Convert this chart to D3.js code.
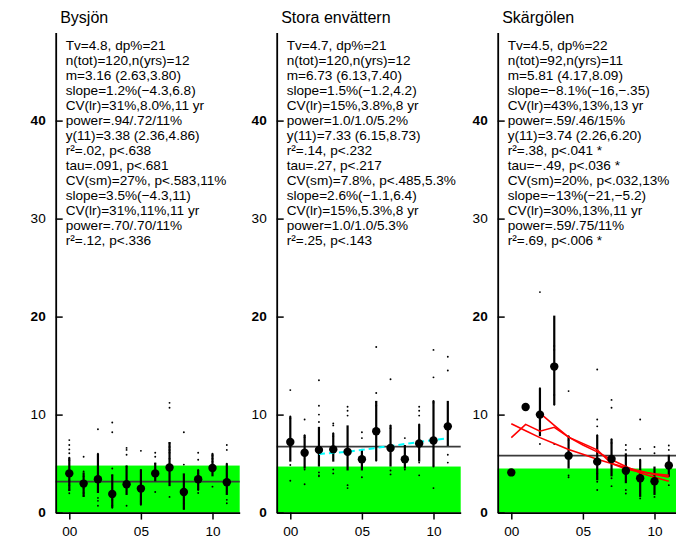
<!DOCTYPE html>
<html>
<head>
<meta charset="utf-8">
<script src="https://cdn.jsdelivr.net/npm/d3@7"></script>
<style>
  html, body { margin: 0; padding: 0; background: #fff; }
  svg { display: block; font-family: "Liberation Sans", Arial, Helvetica, sans-serif; }
</style>
</head>
<body>
<svg id="chart" width="676" height="538"></svg>
<script>
// ---------------- DATA ----------------
const titles = ["Bysjön", "Stora envättern", "Skärgölen"];
const tvValues = [4.8, 4.7, 4.5];
const overallMeans = [3.16, 6.73, 5.81];
const yTickValues = [0, 10, 20, 30, 40];
const xTickValues = [0, 5, 10];
const xTickLabels = ["00", "05", "10"];

const stats1 = [
  "Tv=4.8, dp%=21", "n(tot)=120,n(yrs)=12", "m=3.16 (2.63,3.80)", "slope=1.2%(\u22124.3,6.8)",
  "CV(lr)=31%,8.0%,11 yr", "power=.94/.72/11%", "y(11)=3.38 (2.36,4.86)", "r\u00b2=.02, p<.638",
  "tau=.091, p<.681", "CV(sm)=27%, p<.583,11%", "slope=3.5%(\u22124.3,11)", "CV(lr)=31%,11%,11 yr",
  "power=.70/.70/11%", "r\u00b2=.12, p<.336"
];
const stats2 = [
  "Tv=4.7, dp%=21", "n(tot)=120,n(yrs)=12", "m=6.73 (6.13,7.40)", "slope=1.5%(\u22121.2,4.2)",
  "CV(lr)=15%,3.8%,8 yr", "power=1.0/1.0/5.2%", "y(11)=7.33 (6.15,8.73)", "r\u00b2=.14, p<.232",
  "tau=.27, p<.217", "CV(sm)=7.8%, p<.485,5.3%", "slope=2.6%(\u22121.1,6.4)", "CV(lr)=15%,5.3%,8 yr",
  "power=1.0/1.0/5.3%", "r\u00b2=.25, p<.143"
];
const stats3 = [
  "Tv=4.5, dp%=22", "n(tot)=92,n(yrs)=11", "m=5.81 (4.17,8.09)", "slope=\u22128.1%(\u221216,\u2212.35)",
  "CV(lr)=43%,13%,13 yr", "power=.59/.46/15%", "y(11)=3.74 (2.26,6.20)", "r\u00b2=.38, p<.041 *",
  "tau=\u2212.49, p<.036 *", "CV(sm)=20%, p<.032,13%", "slope=\u221213%(\u221221,\u22125.2)", "CV(lr)=30%,13%,11 yr",
  "power=.59/.75/11%", "r\u00b2=.69, p<.006 *"
];

// Panel 1: Bysjön
const years1 = [0, 1, 2, 3, 4, 5, 6, 7, 8, 9, 10, 11];
const mean1 = [4.0, 2.96, 3.4, 1.9, 2.9, 2.45, 4.0, 4.6, 2.1, 3.4, 4.55, 3.1];
const lo1 = [2.2, 1.6, 2.0, 0.5, 1.8, 0.8, 3.2, 2.7, 0.3, 2.3, 3.7, 1.8];
const hi1 = [5.6, 4.1, 6.0, 3.9, 4.8, 4.4, 5.1, 7.2, 4.0, 4.35, 6.0, 5.0];
const dots1 = [
  [7.4, 6.9, 6.45, 6.05, 5.6, 5.35, 3.3, 2.8, 2.3, 1.97],
  [5.7, 4.2, 3.7, 2.5, 2.0, 1.7],
  [8.5, 6.0, 5.8, 5.4, 1.5, 1.2, 0.7],
  [9.2, 8.2, 4.5, 3.8, 1.3, 0.7, 0.5],
  [6.6, 6.4, 5.9, 4.7, 0.7],
  [6.3, 4.35, 1.6, 1.1, 0.8],
  [6.1, 5.7, 5.0, 2.1],
  [11.2, 10.7, 7.1, 6.7, 6.4, 6.1, 5.5, 1.6],
  [8.2, 4.9, 1.3, 0.9, 0.4],
  [6.1, 5.4, 4.35, 4.0, 2.3, 2.0],
  [6.0, 5.8, 5.5, 5.2, 2.65],
  [6.9, 6.4, 5.0, 1.3, 0.95]
];

// Panel 2: Stora envättern
const years2 = [0, 1, 2, 3, 4, 5, 6, 7, 8, 9, 10, 11];
const mean2 = [7.2, 6.1, 6.4, 6.45, 6.2, 5.45, 8.3, 6.6, 5.45, 7.05, 7.35, 8.8];
const lo2 = [5.2, 4.5, 4.7, 5.2, 4.3, 4.3, 5.3, 4.7, 4.5, 5.2, 4.7, 6.8];
const hi2 = [9.8, 7.9, 8.75, 8.1, 8.9, 6.5, 11.4, 8.9, 6.9, 9.0, 11.4, 11.4];
const dots2 = [
  [12.5, 9.8, 9.6, 4.85, 3.25],
  [9.5, 7.9, 7.7, 4.4, 2.9],
  [13.5, 10.9, 10.0, 9.25, 4.1, 3.8, 3.7],
  [9.1, 8.9, 8.1, 7.8, 4.4, 4.0],
  [10.8, 10.4, 9.9, 2.8, 2.5],
  [8.2, 7.6, 3.6],
  [16.9, 12.2, 11.3, 10.9, 5.3],
  [13.6, 8.9, 8.6, 4.3, 3.9],
  [7.6, 4.4],
  [10.8, 10.4, 9.9, 9.0, 5.1, 3.8],
  [16.6, 13.8, 11.4, 11.2, 4.7, 2.5],
  [15.9, 14.5, 5.9, 5.1]
];
const trendYears2 = [2, 3, 4, 5, 6, 7, 8, 9, 10, 11];
const trend2 = [5.99, 6.1, 6.2, 6.4, 6.6, 6.8, 7.0, 7.2, 7.4, 7.6];

// Panel 3: Skärgölen
const years3 = [0, 1, 2, 3, 4, 6, 7, 8, 9, 10, 11];
const mean3 = [4.1, 10.77, 10.0, 14.9, 5.81, 5.2, 5.47, 4.27, 3.5, 3.2, 4.8];
const lo3 = [null, null, 7.8, 11.0, 4.5, 3.3, 3.7, 3.0, 1.6, 1.8, 3.65];
const hi3 = [null, null, 12.7, 20.1, 7.8, 7.9, 7.5, 6.05, 5.4, 4.7, 5.9];
const dots3 = [
  [],
  [],
  [37.4, 22.5, 12.7, 11.9, 11.7, 8.6, 7.0],
  [17.0, 16.6, 12.0, 11.0, 7.0],
  [12.4, 7.8, 7.4, 3.8, 3.6],
  [14.6, 9.5, 8.8, 7.9, 4.0, 3.15, 2.3],
  [11.5, 10.7, 7.5, 7.1, 3.5, 2.7],
  [6.9, 6.4, 2.3, 1.95],
  [9.5, 6.5, 5.4, 1.45],
  [6.7, 6.05, 1.6],
  [6.85, 6.4, 2.8]
];
const redYearsA = [0, 1, 2, 3, 4, 5, 6, 7, 8, 9, 10, 11];
const redA = [9.06, 8.35, 7.65, 7.05, 6.45, 5.95, 5.45, 5.0, 4.6, 4.25, 3.9, 3.6];
const redYearsB = [0, 1, 2, 3, 4, 6, 7, 8, 9, 10, 11];
const redB = [7.65, 9.0, 8.3, 8.7, 7.7, 6.4, 5.0, 4.45, 4.15, 3.95, 3.8];
const redYearsC = [2, 3, 4, 5, 6, 7, 8, 9, 10, 11];
const redC = [10.15, 8.9, 7.7, 6.9, 6.2, 5.4, 4.7, 4.05, 3.6, 3.2];

// ---------------- DRAWING ----------------
const svg = d3.select("#chart");
const FONT = 13.6;

const panels = [
  { title: titles[0], tv: tvValues[0], m: overallMeans[0], stats: stats1, years: years1, mean: mean1, lo: lo1, hi: hi1, dots: dots1 },
  { title: titles[1], tv: tvValues[1], m: overallMeans[1], stats: stats2, years: years2, mean: mean2, lo: lo2, hi: hi2, dots: dots2,
    dashed: { years: trendYears2, values: trend2, color: "#00ffff" } },
  { title: titles[2], tv: tvValues[2], m: overallMeans[2], stats: stats3, years: years3, mean: mean3, lo: lo3, hi: hi3, dots: dots3,
    red: [ { years: redYearsA, values: redA }, { years: redYearsB, values: redB }, { years: redYearsC, values: redC } ] }
];

const axisX = [55.7, 276.7, 497.7];
const plotW = 184;

panels.forEach((p, i) => {
  const ax = axisX[i];
  const x = d3.scaleLinear().domain([-0.95, 11.9]).range([ax, ax + plotW]);
  const y = d3.scaleLinear().domain([0, 49]).range([512.6, 32.4]);
  const g = svg.append("g");

  // green tolerance band
  g.append("rect")
    .attr("x", x(-0.95)).attr("y", y(p.tv))
    .attr("width", x(11.9) - x(-0.95)).attr("height", y(0) - y(p.tv))
    .attr("fill", "#00ff00");

  // overall mean line
  g.append("line")
    .attr("x1", x(-0.95)).attr("x2", x(11.9))
    .attr("y1", y(p.m)).attr("y2", y(p.m))
    .attr("stroke", "#3a3a3a").attr("stroke-width", 1.8);

  // individual observations
  p.years.forEach((yr, k) => {
    g.selectAll(null).data(p.dots[k]).enter().append("circle")
      .attr("cx", x(yr)).attr("cy", d => y(d)).attr("r", 0.95).attr("fill", "#000");
  });

  // intervals
  p.years.forEach((yr, k) => {
    if (p.lo[k] == null) return;
    g.append("line")
      .attr("x1", x(yr)).attr("x2", x(yr))
      .attr("y1", y(p.lo[k])).attr("y2", y(p.hi[k]))
      .attr("stroke", "#000").attr("stroke-width", 2.2);
  });

  // trend lines
  if (p.dashed) {
    const line = d3.line().x((d, k) => x(p.dashed.years[k])).y(d => y(d));
    g.append("path").attr("d", line(p.dashed.values))
      .attr("fill", "none").attr("stroke", p.dashed.color)
      .attr("stroke-width", 2).attr("stroke-dasharray", "6,4");
  }
  if (p.red) {
    p.red.forEach(r => {
      const line = d3.line().x((d, k) => x(r.years[k])).y(d => y(d));
      g.append("path").attr("d", line(r.values))
        .attr("fill", "none").attr("stroke", "#ff0000").attr("stroke-width", 1.6);
    });
  }

  // yearly means
  g.selectAll(null).data(p.mean).enter().append("circle")
    .attr("cx", (d, k) => x(p.years[k])).attr("cy", d => y(d))
    .attr("r", 4.2).attr("fill", "#000");

  // y axis
  const yAxis = d3.axisLeft(y).tickValues(yTickValues).tickSize(-7).tickSizeOuter(0).tickPadding(10);
  const ya = g.append("g").attr("transform", `translate(${ax},0)`).call(yAxis);
  ya.select(".domain").attr("stroke", "#000").attr("stroke-width", 1.8);
  ya.selectAll(".tick line").attr("stroke", "#000").attr("stroke-width", 1.5);
  ya.selectAll(".tick text")
    .attr("font-size", FONT).attr("fill", "#000")
    .attr("font-family", '"Liberation Sans", Arial, sans-serif')
    .attr("font-weight", d => (d % 20 === 0 ? "bold" : "normal"));

  // x axis
  const xAxis = d3.axisBottom(x).tickValues(xTickValues)
    .tickFormat((d, k) => xTickLabels[k]).tickSize(7).tickSizeOuter(0).tickPadding(7);
  const xa = g.append("g").attr("transform", `translate(0,${y(0)})`).call(xAxis);
  xa.select(".domain").attr("stroke", "#000").attr("stroke-width", 1.8);
  xa.selectAll(".tick line").attr("stroke", "#000").attr("stroke-width", 1.5);
  xa.selectAll(".tick text")
    .attr("font-size", FONT).attr("fill", "#000")
    .attr("font-family", '"Liberation Sans", Arial, sans-serif');

  // title
  g.append("text").attr("x", ax + 4.5).attr("y", 23)
    .attr("font-size", 16).attr("fill", "#000").text(p.title);

  // stats text
  g.selectAll(null).data(p.stats).enter().append("text")
    .attr("x", ax + 10).attr("y", (d, k) => 49.5 + 15 * k)
    .attr("font-size", FONT).attr("fill", "#000")
    .text(d => d);
});
</script>
</body>
</html>
